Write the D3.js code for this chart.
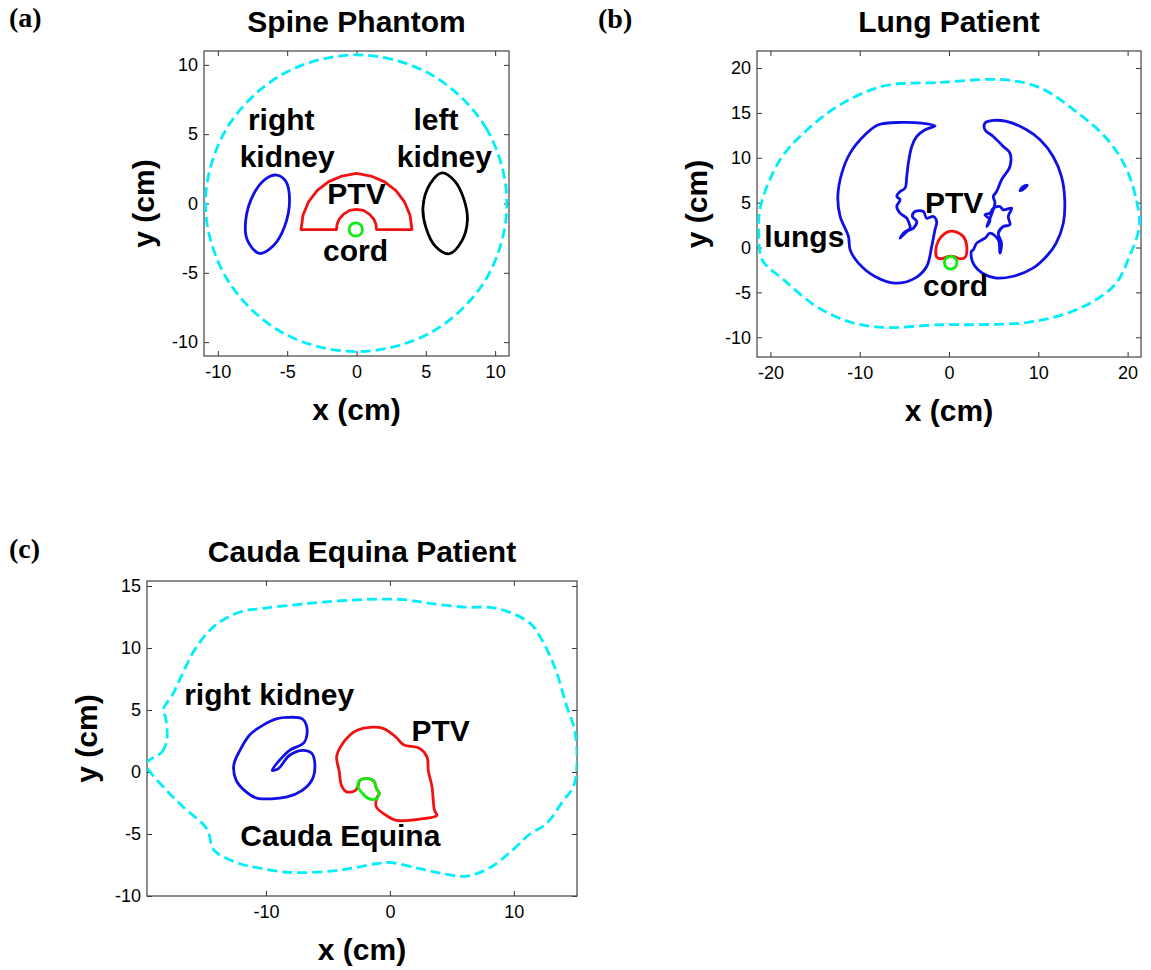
<!DOCTYPE html>
<html>
<head>
<meta charset="utf-8">
<script src="https://cdn.jsdelivr.net/npm/d3@7"></script>
<style>
  body { margin: 0; background: #fff; }
  .tick text { font-family: "Liberation Sans", Arial, sans-serif; font-size: 18px; fill: #000; }
  .bold { font-family: "Liberation Sans", Arial, sans-serif; font-weight: bold; font-size: 30px; fill: #000; }
  .letter { font-family: "Liberation Serif", "Times New Roman", serif; font-weight: bold; font-size: 28px; fill: #000; }
</style>
</head>
<body>
<div id="chart"></div>
<script>
// contours, in cm

// (a) spine phantom
var spineBody = [[10.85,0],[9.4,5.35],[5.43,9.27],[0,10.72],[-5.43,9.27],[-9.4,5.35],[-10.9,0],[-9.4,-5.35],[-5.43,-9.27],[0,-10.68],[5.43,-9.27],[9.4,-5.35]];
var spineRightKidney = [[-5.75,2.05],[-5.1,1.6],[-4.83,0.24],[-5.2,-1.69],[-6.0,-3.05],[-7.0,-3.6],[-7.87,-2.65],[-7.99,-1.2],[-7.4,0.72],[-6.52,1.8]];
var spineLeftKidney = [[6.16,2.21],[7.1,1.6],[7.75,0.3],[8.0,-1.2],[7.6,-2.7],[6.7,-3.62],[5.7,-3.1],[5.0,-1.7],[4.8,-0.2],[5.3,1.4]];
var spinePTV = [[4.0,-1.88],[3.86,-0.85],[3.46,0.12],[2.83,0.95],[2.0,1.58],[1.04,1.98],[0,2.17],[-1.04,1.98],[-2.0,1.58],[-2.83,0.95],[-3.46,0.12],[-3.86,-0.85],[-4.0,-1.88],
  [-1.45,-1.88],[-1.4,-1.5],[-1.26,-1.15],[-0.95,-0.78],[-0.5,-0.5],[0,-0.43],[0.5,-0.5],[0.95,-0.78],[1.26,-1.15],[1.4,-1.5],[1.45,-1.88]];
var spineCord = [[0.43,-1.88],[0.29,-1.54],[-0.05,-1.4],[-0.39,-1.54],[-0.53,-1.88],[-0.39,-2.22],[-0.05,-2.36],[0.29,-2.22]];
var spineLabels = [
  {text: "right", x: -5.43, y: 5.3}, {text: "kidney", x: -5.0, y: 2.65},
  {text: "left", x: 5.73, y: 5.3}, {text: "kidney", x: 6.34, y: 2.65},
  {text: "PTV", x: 0, y: 0.0}, {text: "cord", x: -0.07, y: -4.15}
];

// (b) lung patient
var lungBody = [[-7.3,18.0],[-1.0,18.4],[6.1,18.7],[10.2,17.8],[13.9,15.4],[17.6,12.2],[19.9,8.7],[21.2,4.2],[21.3,2.2],[20.2,-1.0],[18.7,-4.0],[15.8,-6.2],[12.0,-7.7],[8.3,-8.4],[2.7,-8.6],[-1.0,-8.6],[-7.3,-8.9],[-11.1,-8.3],[-14.8,-6.6],[-18.5,-3.6],[-20.9,-1.4],[-21.3,1.8],[-21.1,4.6],[-18.9,9.8],[-15.9,13.1],[-12.2,15.9]];
var lungLeft = [[-1.57,13.57],[-3.06,13.86],[-5.29,13.94],[-7.9,13.68],[-9.4,12.56],[-11.07,10.52],[-12.0,8.29],[-12.45,5.69],[-12.19,3.46],[-11.26,1.23],[-11.07,-0.26],[-10.14,-1.74],[-8.28,-3.23],[-6.04,-3.97],[-3.8,-3.41],[-2.5,-2.12],[-1.94,0.11],[-1.57,1.97],[-1.38,2.9],[-1.75,3.46],[-2.5,3.27],[-2.87,4.01],[-3.8,4.01],[-4.1,3.46],[-3.61,2.9],[-3.99,2.16],[-4.73,1.78],[-5.48,1.04],[-5.1,1.6],[-4.36,2.16],[-4.47,2.72],[-4.73,3.27],[-5.48,3.83],[-5.85,4.57],[-5.48,5.32],[-5.85,5.69],[-5.48,6.24],[-4.92,6.62],[-4.73,7.92],[-4.55,9.41],[-4.17,11.26],[-3.61,12.38],[-2.68,13.12]];
var lungRight = [[4.03,13.87],[4.96,14.16],[6.45,14.05],[8.69,13.12],[10.2,12.0],[11.66,10.15],[12.6,7.9],[12.96,5.3],[12.8,2.7],[12.0,0.5],[10.9,-1.0],[9.4,-2.3],[7.2,-3.2],[5.3,-3.4],[3.8,-2.9],[2.7,-1.75],[2.5,-0.45],[2.72,-0.26],[3.1,0.49],[4.03,1.04],[4.59,1.6],[5.52,0.86],[5.7,-0.63],[5.88,0.49],[5.52,1.6],[6.08,2.34],[6.82,2.53],[6.64,3.46],[7.01,4.39],[6.08,4.2],[5.7,4.57],[4.96,4.39],[4.59,3.83],[4.03,3.65],[4.59,3.09],[4.22,2.34],[5.15,4.95],[4.96,5.69],[5.33,6.24],[5.89,7.55],[6.82,9.03],[6.82,10.52],[6.08,11.26],[4.96,12.38],[4.03,13.12]];
var lungIslet = [[7.95,6.35],[8.45,6.6],[8.75,6.95],[8.25,6.75]];
var lungPTV = [[-0.08,1.78],[0.67,1.78],[1.6,1.23],[1.98,0.2],[1.8,-1.1],[1.2,-1.25],[0.5,-1.0],[-0.1,-1.0],[-0.8,-1.25],[-1.35,-1.1],[-1.4,0.2],[-0.85,1.23]];
var lungCord = [[0.89,-1.7],[0.69,-1.2],[0.19,-1.0],[-0.31,-1.2],[-0.51,-1.7],[-0.31,-2.2],[0.19,-2.4],[0.69,-2.2]];
var lungLabels = [
  {text: "PTV", x: 0.58, y: 3.83}, {text: "lungs", x: -16.2, y: 0.1}, {text: "cord", x: 0.73, y: -5.4}
];

// (c) cauda equina patient
var caudaBody = [[-19.6,0.8],[-18.4,1.6],[-18.0,2.6],[-18.1,4.4],[-18.3,5.0],[-17.5,6.3],[-16.7,8.0],[-15.6,10.1],[-14.0,11.9],[-12.1,12.9],[-10.2,13.2],[-7.5,13.5],[-5.4,13.7],[-2.2,13.9],[1.1,13.9],[3.2,13.6],[5.9,13.3],[8.6,13.2],[11.3,12.0],[12.4,10.4],[13.4,8.2],[14.2,5.5],[14.9,3.4],[15.1,0.7],[14.8,-1.2],[14.0,-2.3],[12.6,-4.2],[11.3,-5.0],[9.9,-6.3],[8.1,-7.7],[6.2,-8.4],[4.3,-8.2],[2.4,-7.8],[0,-7.3],[-1.1,-7.4],[-2.7,-7.7],[-4.8,-8.0],[-8.1,-8.1],[-10.8,-7.7],[-12.1,-7.4],[-14.2,-6.3],[-14.6,-5.0],[-14.9,-4.4],[-16.7,-2.8],[-18.0,-1.5],[-19.6,0.4]];
var caudaKidney = [[-8.3,4.4],[-7.1,4.3],[-6.7,3.6],[-6.9,2.4],[-8.1,1.75],[-8.9,0.95],[-9.5,0.13],[-9.0,0.27],[-8.1,1.35],[-7.0,1.75],[-6.3,1.5],[-6.05,0.4],[-6.3,-0.67],[-7.1,-1.5],[-8.3,-2.0],[-10.75,-2.1],[-11.6,-1.6],[-12.4,-0.67],[-12.6,0.54],[-12.1,1.75],[-11.3,3.0],[-10.2,3.8],[-9.1,4.3]];
var caudaPTV = [[-2.55,3.4],[-1.6,3.6],[-0.5,3.5],[0.5,2.8],[1.1,2.2],[2.4,1.9],[3.0,1.2],[3.1,0.1],[3.4,-1.2],[3.6,-3.1],[3.8,-3.5],[2.4,-3.8],[0.5,-3.9],[-0.3,-3.5],[-1.1,-2.8],[-1.08,-2.16],[-0.86,-1.7],[-1.08,-1.35],[-1.29,-0.73],[-1.75,-0.54],[-2.42,-0.67],[-2.58,-1.16],[-2.8,-1.5],[-3.5,-1.6],[-3.9,-1.1],[-4.1,0.13],[-4.3,1.2],[-4.0,2.0],[-3.2,3.0]];
var caudaCord = [[-2.42,-0.67],[-1.75,-0.54],[-1.29,-0.73],[-1.08,-1.35],[-0.86,-1.7],[-1.08,-2.16],[-1.75,-2.13],[-2.23,-1.7],[-2.58,-1.16]];
var caudaLabels = [
  {text: "right kidney", x: -9.74, y: 5.4}, {text: "PTV", x: 4.1, y: 2.5}, {text: "Cauda Equina", x: -4.0, y: -5.93}
];

// tick values
var spineTicksX = [-10, -5, 0, 5, 10], spineTicksY = [-10, -5, 0, 5, 10];
var lungTicksX = [-20, -10, 0, 10, 20], lungTicksY = [-10, -5, 0, 5, 10, 15, 20];
var caudaTicksX = [-10, 0, 10], caudaTicksY = [-10, -5, 0, 5, 10, 15];

var CYAN = "#00eefa", BLUE = "#1010e6", RED = "#f21010", GREEN = "#10ec10", BLACK = "#000";

var svg = d3.select("#chart").append("svg")
    .attr("width", 1151)
    .attr("height", 970);

function drawPanel(p) {
  var x = d3.scaleLinear().domain(p.xDomain).range([p.x0, p.x1]);
  var y = d3.scaleLinear().domain(p.yDomain).range([p.y1, p.y0]);
  var g = svg.append("g");

  g.append("clipPath").attr("id", "clip-" + p.id)
    .append("rect")
      .attr("x", p.x0).attr("y", p.y0)
      .attr("width", p.x1 - p.x0).attr("height", p.y1 - p.y0);

  // axes, ticks point inward like matlab; top and right carry ticks only
  g.append("g").attr("transform", "translate(0," + p.y1 + ")")
    .call(d3.axisBottom(x).tickValues(p.ticksX).tickSizeInner(-5).tickSizeOuter(0).tickPadding(9));
  g.append("g").attr("transform", "translate(" + p.x0 + ",0)")
    .call(d3.axisLeft(y).tickValues(p.ticksY).tickSizeInner(-5).tickSizeOuter(0).tickPadding(6));
  g.selectAll(".tick text").text(function(d) { return String(d); });
  g.append("g").attr("class", "mirror").attr("transform", "translate(0," + p.y0 + ")")
    .call(d3.axisTop(x).tickValues(p.ticksX).tickSizeInner(-5).tickSizeOuter(0));
  g.append("g").attr("class", "mirror").attr("transform", "translate(" + p.x1 + ",0)")
    .call(d3.axisRight(y).tickValues(p.ticksY).tickSizeInner(-5).tickSizeOuter(0));
  g.selectAll(".mirror text").remove();
  g.selectAll(".domain").remove();
  g.selectAll(".tick line").attr("stroke", "#333");

  g.append("rect")
    .attr("x", p.x0).attr("y", p.y0)
    .attr("width", p.x1 - p.x0).attr("height", p.y1 - p.y0)
    .attr("fill", "none").attr("stroke", "#444").attr("stroke-width", 1.2);

  var line = d3.line()
    .x(function(d) { return x(d[0]); })
    .y(function(d) { return y(d[1]); });

  var plot = g.append("g").attr("clip-path", "url(#clip-" + p.id + ")");
  p.shapes.forEach(function(s) {
    line.curve(s.smooth ? d3.curveCatmullRomClosed.alpha(0.5) : d3.curveLinearClosed);
    plot.append("path")
      .attr("d", line(s.data))
      .attr("fill", "none")
      .attr("stroke", s.color)
      .attr("stroke-width", 2.8)
      .attr("stroke-dasharray", s.dashed ? "10,5" : null)
      .attr("stroke-linejoin", "round");
  });

  g.selectAll(".label").data(p.labels).enter()
    .append("text")
      .attr("class", "bold")
      .attr("text-anchor", "middle")
      .attr("x", function(d) { return x(d.x); })
      .attr("y", function(d) { return y(d.y); })
      .text(function(d) { return d.text; });

  var cx = (p.x0 + p.x1) / 2, cy = (p.y0 + p.y1) / 2;
  g.append("text").attr("class", "bold").attr("text-anchor", "middle")
    .attr("x", cx).attr("y", p.y0 - 19).text(p.title);
  g.append("text").attr("class", "bold").attr("text-anchor", "middle")
    .attr("x", cx).attr("y", p.y1 + 64).text("x (cm)");
  g.append("text").attr("class", "bold").attr("text-anchor", "middle")
    .attr("transform", "translate(" + (p.x0 - 50) + "," + cy + ") rotate(-90)")
    .text("y (cm)");
  g.append("text").attr("class", "letter")
    .attr("x", p.letterX).attr("y", p.letterY).text(p.letter);
}

drawPanel({
  id: "a", title: "Spine Phantom", letter: "(a)", letterX: 9, letterY: 27,
  x0: 204, x1: 509, y0: 51, y1: 356, xDomain: [-11, 11], yDomain: [-11, 11],
  ticksX: spineTicksX, ticksY: spineTicksY, labels: spineLabels,
  shapes: [
    {data: spineBody, color: CYAN, dashed: true, smooth: true},
    {data: spineRightKidney, color: BLUE, smooth: true},
    {data: spineLeftKidney, color: BLACK, smooth: true},
    {data: spinePTV, color: RED},
    {data: spineCord, color: GREEN, smooth: true}
  ]
});

drawPanel({
  id: "b", title: "Lung Patient", letter: "(b)", letterX: 598, letterY: 28,
  x0: 757, x1: 1141, y0: 51, y1: 357, xDomain: [-21.5, 21.5], yDomain: [-12.2, 21.9],
  ticksX: lungTicksX, ticksY: lungTicksY, labels: lungLabels,
  shapes: [
    {data: lungBody, color: CYAN, dashed: true, smooth: true},
    {data: lungLeft, color: BLUE, smooth: true},
    {data: lungRight, color: BLUE, smooth: true},
    {data: lungIslet, color: BLUE, smooth: true},
    {data: lungPTV, color: RED, smooth: true},
    {data: lungCord, color: GREEN, smooth: true}
  ]
});

drawPanel({
  id: "c", title: "Cauda Equina Patient", letter: "(c)", letterX: 9, letterY: 558,
  x0: 147, x1: 577, y0: 581, y1: 896, xDomain: [-19.6, 15.1], yDomain: [-10, 15.4],
  ticksX: caudaTicksX, ticksY: caudaTicksY, labels: caudaLabels,
  shapes: [
    {data: caudaBody, color: CYAN, dashed: true, smooth: true},
    {data: caudaKidney, color: BLUE, smooth: true},
    {data: caudaPTV, color: RED, smooth: true},
    {data: caudaCord, color: GREEN, smooth: true}
  ]
});
</script>
</body>
</html>
